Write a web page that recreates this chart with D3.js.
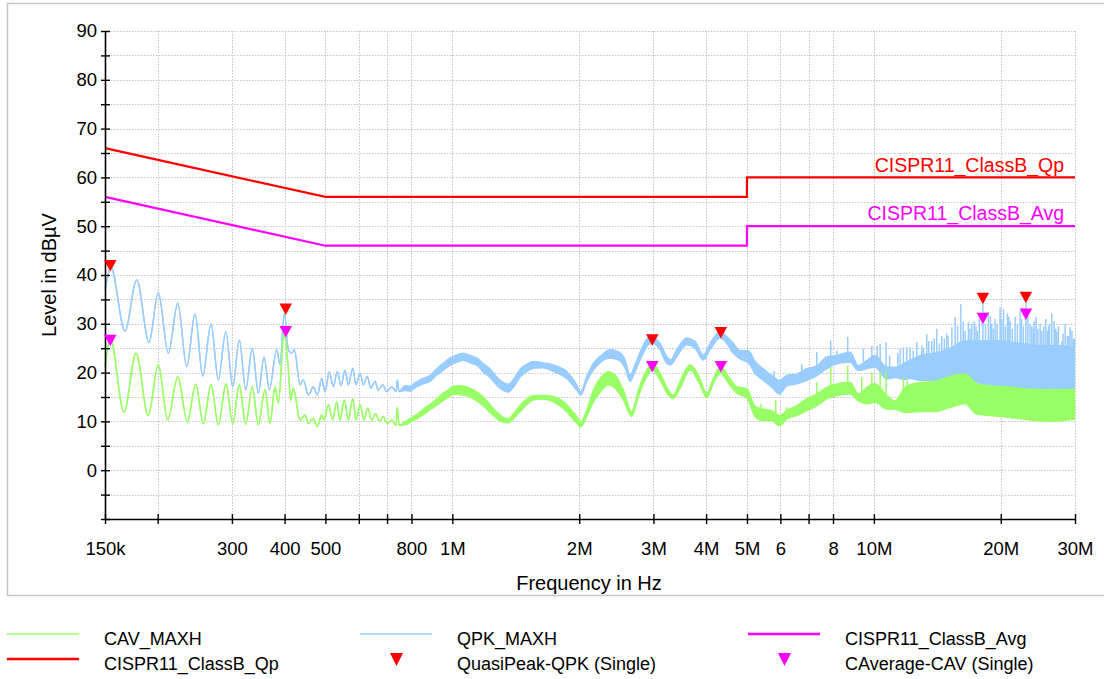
<!DOCTYPE html>
<html><head><meta charset="utf-8">
<script src="https://cdn.jsdelivr.net/npm/d3@7"></script>
<style>
html,body{margin:0;padding:0;background:#fff;}
svg{display:block;}
</style></head><body>
<svg id="chart" width="1104" height="679"></svg>
<script>
// ---- Frequency axis (MHz) ----
const xTickFreq = [0.15,0.2,0.3,0.4,0.5,0.6,0.7,0.8,1,2,3,4,5,6,7,8,10,20,30];
const xLabelFreq = [0.15,0.3,0.4,0.5,0.8,1,2,3,4,5,6,8,10,20,30];
const xLabelText = ["150k","300","400","500","800","1M","2M","3M","4M","5M","6","8","10M","20M","30M"];
const yTicks = [-10,-5,0,5,10,15,20,25,30,35,40,45,50,55,60,65,70,75,80,85,90];
const yLabels = [0,10,20,30,40,50,60,70,80,90];

// ---- Limit lines ----
const limitFreq = [0.15,0.5,5,5,30];
const qpLimit = [66,56,56,60,60];
const avgLimit = [56,46,46,50,50];

// ---- QPK_MAXH trace (min/max per frequency step, dBµV) ----
const qpkFreq = [
 0.150,0.155,0.1673,0.1784,0.1908,0.2007,0.212,0.2232,0.2344,0.2453,
 0.2558,0.2677,0.2786,0.2901,0.3014,0.3124,0.3235,0.3354,0.3466,0.3576,
 0.3681,0.3833,0.3902,0.3995,0.4083,0.4159,0.4219,0.4353,0.4432,0.4555,
 0.4681,0.4785,0.4900,0.4990,0.5107,0.5220,0.5335,0.5445,0.5565,0.5666,
 0.5805,0.5910,0.6041,0.6150,0.6286,0.6405,0.6557,0.6675,0.6839,0.6988,
 0.7182,0.7353,0.7406,0.7474,0.7723,0.7936,0.8157,0.8461,0.8854,0.9185,
 0.9521,0.9876,1.0244,1.0621,1.1018,1.1429,1.1847,1.2289,1.2747,1.3216,
 1.3580,1.3958,1.4477,1.5018,1.5567,1.6442,1.7364,1.8684,1.9731,2.0168,
 2.0838,2.1605,2.2619,2.3669,2.4768,2.5691,2.6403,2.7132,2.8145,2.9181,
 2.9891,3.1106,3.2267,3.2979,3.4076,3.5982,3.7652,3.9399,4.0868,4.3170,
 4.4781,4.6025,4.8161,5.040,5.226,5.469,5.724,5.967,6.214,6.562,
 6.930,7.321,7.732,8.165,8.782,9.191,9.622,10.07,10.73,11.23,
 11.86,12.19,12.87,13.97,15.17,16.46,17.87,19.94,22.23,24.80,
 27.66,30.0];
const qpkLo = [
 37.0,41.5,28.5,39.0,26.2,36.4,24.0,34.2,21.2,32.0,
 19.3,30.0,18.5,28.4,17.1,26.7,16.5,25.0,15.8,23.2,
 16.5,24.7,21.6,32.2,24.7,24.0,24.7,17.5,18.5,15.4,
 17.1,15.4,18.8,16.1,20.2,17.1,20.2,17.3,20.5,17.5,
 20.9,17.5,19.9,17.5,19.2,16.8,18.2,16.4,17.5,16.1,
 17.1,16.1,18.5,16.1,16.3,16.2,16.9,17.6,18.2,19.5,
 20.5,21.5,22.1,22.5,22.0,21.5,20.1,19.0,17.4,16.3,
 16.0,17.0,19.1,20.2,20.9,21.0,20.2,18.8,16.4,15.4,
 18.2,20.5,22.3,23.0,22.6,20.9,18.2,20.2,23.3,25.7,
 26.0,24.7,21.9,21.6,23.3,25.7,25.0,22.6,24.7,27.1,
 26.0,24.3,22.8,22.0,19.8,18.4,17.0,15.6,17.3,17.7,
 18.4,19.4,20.8,21.8,22.1,20.4,20.8,21.1,18.7,19.0,
 18.6,18.8,18.4,18.4,18.8,19.4,17.7,17.3,16.6,16.5,
 16.6,16.6];
const qpkHi = [
 37.0,41.5,28.5,39.0,26.2,36.4,24.0,34.2,21.2,32.0,
 19.3,30.0,18.5,28.4,17.1,26.7,16.5,25.0,15.8,23.2,
 16.5,24.7,21.6,32.2,24.7,24.0,24.7,17.5,18.5,15.4,
 17.1,15.4,18.8,16.1,20.2,17.1,20.2,17.3,20.5,17.5,
 20.9,17.5,19.9,17.5,19.2,16.8,18.2,16.4,17.5,16.1,
 17.1,16.1,18.5,16.1,17.3,17.2,17.9,18.7,19.4,20.8,
 21.9,23.0,23.6,24.0,23.5,23.0,21.8,20.8,19.1,18.0,
 17.6,18.6,20.7,21.7,22.3,22.0,21.6,20.2,17.5,16.1,
 19.2,21.9,23.6,24.7,24.3,22.6,19.5,21.6,25.0,27.1,
 27.1,26.0,23.3,22.6,24.7,27.1,26.4,23.6,26.0,28.4,
 27.4,26.4,24.5,24.5,22.3,20.8,19.4,18.4,19.4,19.7,
 20.8,21.4,23.2,23.5,24.2,21.4,22.5,23.5,21.1,21.1,
 22.0,22.5,23.5,24.0,25.0,26.5,26.5,26.5,26.0,25.5,
 25.5,25.0];
// isolated peaks rising above the QPK band
const qpkSpikeFreq = [
 5.80,6.745,7.321,7.90,8.165,8.67,9.44,9.89,10.18,10.35,
 10.69,10.9,11.4,11.54,11.75,11.97,12.19,12.4,12.64,12.99,
 13.1,13.35,13.5,13.72,13.9,14.10,14.3,14.49,14.7,14.89,
 15.0,15.31,15.59,15.8,16.08,16.3,16.46,16.76,16.9,17.07,
 17.3,17.47,17.6,17.79,18.14,18.4,18.69,18.9,19.04,19.2,
 19.39,19.6,19.93,20.1,20.30,20.5,20.74,20.9,21.05,21.3,
 21.63,21.9,22.23,22.4,22.63,22.94,23.2,23.47,23.7,23.90,
 24.0,24.26,24.5,24.8,25.03,25.3,25.58,25.8,25.95,26.1,
 26.43,26.77,27.0,27.16,27.4,27.92,28.1,28.43,28.78,29.0,
 29.21,29.5,29.74,29.9];
const qpkSpikeLevel = [
 20.4,21.8,24.2,26.6,24.5,27.3,24.9,25.5,25.5,25.9,
 26.2,23.5,24.0,24.9,25.2,25.2,25.2,24.5,26.2,25.5,
 25.0,27.9,26.5,26.5,27.0,29.0,26.0,27.5,27.0,28.0,
 27.5,29.3,31.4,29.5,34.0,30.5,28.5,30.3,29.0,30.0,
 30.5,29.5,28.5,31.0,34.0,30.0,32.4,31.5,30.0,29.0,
 31.0,30.0,33.4,31.0,33.1,29.5,32.1,31.5,30.5,29.0,
 31.4,30.0,32.7,31.0,29.5,34.2,31.5,30.0,29.5,29.0,
 30.5,31.4,29.0,30.0,28.6,29.5,31.0,28.5,29.5,30.0,
 32.1,30.5,29.0,28.3,29.5,26.5,28.0,30.0,27.5,27.5,
 29.3,28.5,26.9,27.0];

// ---- CAV_MAXH trace ----
const cavFreq = [
 0.150,0.1544,0.1664,0.1777,0.1900,0.2007,0.2113,0.2232,0.2352,0.2462,
 0.2567,0.2677,0.2786,0.2905,0.3014,0.3124,0.3235,0.3354,0.3466,0.3595,
 0.3695,0.3797,0.3866,0.3989,0.4083,0.4137,0.4196,0.4353,0.4473,0.4555,
 0.4681,0.4785,0.4900,0.4962,0.5080,0.5203,0.5318,0.5415,0.5544,0.5666,
 0.5805,0.5910,0.6041,0.6174,0.6301,0.6439,0.6581,0.6712,0.6859,0.7011,
 0.7182,0.7353,0.7406,0.7474,0.7723,0.7936,0.8232,0.8535,0.8854,0.9185,
 0.9521,0.9785,1.0055,1.0430,1.1018,1.1429,1.1847,1.2289,1.2747,1.3216,
 1.3580,1.3958,1.4477,1.5018,1.5567,1.6442,1.7364,1.8684,1.9731,2.0168,
 2.0838,2.1605,2.2619,2.3453,2.4327,2.5455,2.6648,2.7632,2.8662,2.9891,
 3.1106,3.2550,3.3450,3.4698,3.6642,3.8345,4.0142,4.1624,4.3332,4.5185,
 4.7300,4.9965,5.226,5.469,5.724,5.967,6.214,6.562,6.930,7.321,
 7.732,8.165,8.782,9.191,9.622,10.07,10.73,11.23,11.86,12.87,
 13.97,15.17,16.46,17.54,18.87,21.05,23.47,26.19,30.0];
const cavLo = [
 21.2,27.0,11.9,24.0,11.2,21.6,10.3,19.2,9.9,17.6,
 9.5,17.5,9.3,17.7,9.6,17.5,9.4,17.1,9.3,16.5,
 9.6,17.1,13.7,28.0,20.6,14.4,16.8,10.3,11.3,9.6,
 10.6,8.9,11.3,10.3,13.4,10.3,14.0,10.3,14.4,10.3,
 14.7,10.3,13.4,10.3,12.7,10.3,11.6,9.9,11.0,9.6,
 10.3,9.2,12.9,9.2,9.3,9.8,10.5,11.4,12.4,13.3,
 14.3,14.9,15.6,15.5,15.0,14.2,13.2,11.8,10.6,9.8,
 9.7,10.5,12.0,13.4,14.4,14.6,14.0,12.0,9.6,8.9,
 11.0,14.0,16.4,17.5,16.8,14.4,11.0,15.1,18.5,20.5,
 18.5,15.4,14.7,16.8,20.5,18.2,14.9,17.8,19.9,17.8,
 15.8,14.8,11.0,10.1,10.1,9.1,10.5,11.2,12.2,13.2,
 14.6,15.3,15.6,14.2,13.6,13.9,12.5,12.5,11.8,12.0,
 12.0,12.9,13.6,11.5,11.2,10.8,10.3,10.0,10.5];
const cavHi = [
 21.2,27.0,11.9,24.0,11.2,21.6,10.3,19.2,9.9,17.6,
 9.5,17.5,9.3,17.7,9.6,17.5,9.4,17.1,9.3,16.5,
 9.6,17.1,13.7,28.0,20.6,14.4,16.8,10.3,11.3,9.6,
 10.6,8.9,11.3,10.3,13.4,10.3,14.0,10.3,14.4,10.3,
 14.7,10.3,13.4,10.3,12.7,10.3,11.6,9.9,11.0,9.6,
 10.3,9.2,12.9,9.2,9.9,10.6,11.4,12.5,13.5,14.6,
 15.8,16.4,17.2,17.3,16.8,16.0,15.0,13.4,11.9,10.8,
 10.5,11.5,13.3,14.6,15.3,15.3,15.1,13.4,11.0,9.9,
 12.3,16.4,19.2,20.2,19.5,16.4,12.0,16.4,19.9,21.9,
 19.9,16.4,15.4,18.2,21.6,19.5,15.8,18.8,21.2,19.2,
 17.1,16.7,13.1,12.5,12.2,11.2,12.2,13.2,14.6,15.6,
 17.0,17.7,18.0,15.6,17.0,17.7,15.3,14.2,17.0,18.0,
 18.2,19.2,19.7,17.7,17.3,17.0,16.6,16.5,16.6];
const cavSpikeFreq = [5.40,5.85,6.214,6.745,7.321,7.90,8.67,9.36,9.89,10.35,10.69,11.75,12.0];
const cavSpikeLevel = [13.6,14.4,13.0,14.2,18.0,21.1,21.4,19.0,20.1,20.1,20.4,19.0,18.4];

// ---- Final measurement markers ----
const markerFreq = [0.1544,0.4026,2.981,4.335,18.14,22.94];
const qpkMarkerLevel = [40.7,31.8,25.5,27.0,34.0,34.2];
const cavMarkerLevel = [25.4,27.2,20.0,20.0,29.9,30.8];

// ---- Legend ----
const legendNames = ["CAV_MAXH","QPK_MAXH","CISPR11_ClassB_Avg","CISPR11_ClassB_Qp","QuasiPeak-QPK (Single)","CAverage-CAV (Single)"];

const FONT = '"Liberation Sans", Arial, Helvetica, sans-serif';
const C_QPK = '#99ccff', C_CAV = '#99ff66', C_QP = '#ff0000', C_AVG = '#ff00ff';

const svg = d3.select('#chart').attr('font-family', FONT);
const x = d3.scaleLog().domain([0.15, 30]).range([105, 1075]);
const y = d3.scaleLinear().domain([-10, 90]).range([519, 31]);

// outer frame
svg.append('rect').attr('x', 7.5).attr('y', 3.5).attr('width', 1110).attr('height', 592)
  .attr('fill', 'none').attr('stroke', '#c6c6c6').attr('stroke-width', 1.5);

// grid
const grid = svg.append('g').attr('stroke', '#c4c4c4').attr('stroke-width', 1).attr('stroke-dasharray', '1.5,1.5');
grid.selectAll('line.h').data(yTicks.filter(v => v > -10)).join('line')
  .attr('x1', 105).attr('x2', 1075).attr('y1', d => Math.round(y(d)) + 0.5).attr('y2', d => Math.round(y(d)) + 0.5);
grid.selectAll('line.v').data(xTickFreq.filter(f => f > 0.15)).join('line')
  .attr('y1', 31).attr('y2', 519).attr('x1', d => Math.round(x(d)) + 0.5).attr('x2', d => Math.round(x(d)) + 0.5);

// helpers
function rows(freq, lo, hi) { return freq.map((f, i) => ({ f, lo: lo[i], hi: hi[i] })); }
function hiAt(freq, hi, f) {
  const i = d3.bisectRight(freq, f);
  if (i <= 0) return hi[0];
  if (i >= freq.length) return hi[hi.length - 1];
  const t = (Math.log(f) - Math.log(freq[i - 1])) / (Math.log(freq[i]) - Math.log(freq[i - 1]));
  return hi[i - 1] + t * (hi[i] - hi[i - 1]);
}
const plot = svg.append('g');
const curve = d3.curveMonotoneX;
function drawTrace(freq, lo, hi, sf, sl, color) {
  const data = rows(freq, lo, hi);
  const g = plot.append('g');
  g.append('path').datum(data).attr('fill', color)
    .attr('d', d3.area().curve(curve).x(d => x(d.f)).y0(d => y(d.lo)).y1(d => y(d.hi)));
  ['lo', 'hi'].forEach(k => {
    g.append('path').datum(data).attr('fill', 'none').attr('stroke', color).attr('stroke-width', 1.4)
      .attr('stroke-linejoin', 'round')
      .attr('d', d3.line().curve(curve).x(d => x(d.f)).y(d => y(d[k])));
  });
  g.selectAll('line.spike').data(sf.map((f, i) => ({ f, v: sl[i] }))).join('line')
    .attr('stroke', color).attr('stroke-width', 1.5)
    .attr('x1', d => x(d.f)).attr('x2', d => x(d.f))
    .attr('y1', d => y(hiAt(freq, hi, d.f)) + 1).attr('y2', d => y(d.v));
}
drawTrace(qpkFreq, qpkLo, qpkHi, qpkSpikeFreq, qpkSpikeLevel, C_QPK);
drawTrace(cavFreq, cavLo, cavHi, cavSpikeFreq, cavSpikeLevel, C_CAV);

// limit lines
const limLine = d3.line().x(d => x(d[0])).y(d => y(d[1]));
plot.append('path').datum(limitFreq.map((f, i) => [f, avgLimit[i]])).attr('d', limLine)
  .attr('fill', 'none').attr('stroke', C_AVG).attr('stroke-width', 2.2);
plot.append('path').datum(limitFreq.map((f, i) => [f, qpLimit[i]])).attr('d', limLine)
  .attr('fill', 'none').attr('stroke', C_QP).attr('stroke-width', 2.2);
svg.append('text').attr('x', 1064).attr('y', 172).attr('text-anchor', 'end')
  .attr('font-size', 19.5).attr('fill', C_QP).text('CISPR11_ClassB_Qp');
svg.append('text').attr('x', 1064).attr('y', 220).attr('text-anchor', 'end')
  .attr('font-size', 19.5).attr('fill', C_AVG).text('CISPR11_ClassB_Avg');

// axes
const gy = svg.append('g').attr('transform', 'translate(105,0)')
  .call(d3.axisLeft(y).tickValues(yTicks).tickSizeInner(4).tickSizeOuter(0).tickPadding(4)
    .tickFormat(d => yLabels.includes(d) ? String(d) : ''));
gy.attr('font-family', FONT).attr('font-size', 18.5);
gy.select('.domain').attr('stroke', '#000').attr('stroke-width', 1.6);
gy.selectAll('.tick line').attr('x1', 5).attr('x2', -4).attr('stroke', '#000').attr('stroke-width', 1.4);
gy.selectAll('.tick text').attr('fill', '#000');

const gx = svg.append('g').attr('transform', 'translate(0,519)')
  .call(d3.axisBottom(x).tickValues(xTickFreq).tickSizeInner(5).tickSizeOuter(0).tickPadding(18)
    .tickFormat(d => { const i = xLabelFreq.indexOf(d); return i >= 0 ? xLabelText[i] : ''; }));
gx.attr('font-family', FONT).attr('font-size', 18.5);
gx.select('.domain').attr('stroke', '#000').attr('stroke-width', 1.6);
gx.selectAll('.tick line').attr('y1', -5).attr('y2', 5).attr('stroke', '#000').attr('stroke-width', 1.4);
gx.selectAll('.tick text').attr('fill', '#000');

// markers
function tri(cx, cy, w, h) { return `M${cx - w / 2},${cy - h}L${cx + w / 2},${cy - h}L${cx},${cy}Z`; }
svg.append('g').selectAll('path').data(markerFreq.map((f, i) => ({ f, v: qpkMarkerLevel[i] }))).join('path')
  .attr('fill', C_QP).attr('d', d => tri(x(d.f), y(d.v), 12.5, 11.5));
svg.append('g').selectAll('path').data(markerFreq.map((f, i) => ({ f, v: cavMarkerLevel[i] }))).join('path')
  .attr('fill', C_AVG).attr('d', d => tri(x(d.f), y(d.v), 12.5, 11.5));

// axis titles
svg.append('text').attr('transform', 'translate(56,275) rotate(-90)').attr('text-anchor', 'middle')
  .attr('font-size', 20).attr('fill', '#000').text('Level in dBµV');
svg.append('text').attr('x', 589).attr('y', 590).attr('text-anchor', 'middle')
  .attr('font-size', 20).attr('fill', '#000').text('Frequency in Hz');

// legend
const legendItems = [
  { name: legendNames[0], kind: 'line', color: C_CAV, w: 1.5, col: 0, row: 0 },
  { name: legendNames[1], kind: 'line', color: C_QPK, w: 1.5, col: 1, row: 0 },
  { name: legendNames[2], kind: 'line', color: C_AVG, w: 2.5, col: 2, row: 0 },
  { name: legendNames[3], kind: 'line', color: C_QP, w: 2.5, col: 0, row: 1 },
  { name: legendNames[4], kind: 'tri', color: C_QP, col: 1, row: 1 },
  { name: legendNames[5], kind: 'tri', color: C_AVG, col: 2, row: 1 }
];
const colX = [7, 360, 748], textX = [104, 457, 845], rowY = [634, 659];
const lg = svg.append('g');
legendItems.forEach(it => {
  const x0 = colX[it.col], yy = rowY[it.row];
  if (it.kind === 'line') {
    lg.append('line').attr('x1', x0).attr('x2', x0 + 72).attr('y1', yy).attr('y2', yy)
      .attr('stroke', it.color).attr('stroke-width', it.w);
  } else {
    lg.append('path').attr('fill', it.color).attr('d', tri(x0 + 36.5, yy + 7, 13, 13));
  }
  lg.append('text').attr('x', textX[it.col]).attr('y', yy + 11).attr('font-size', 18)
    .attr('fill', '#000').text(it.name);
});
</script>
</body></html>
